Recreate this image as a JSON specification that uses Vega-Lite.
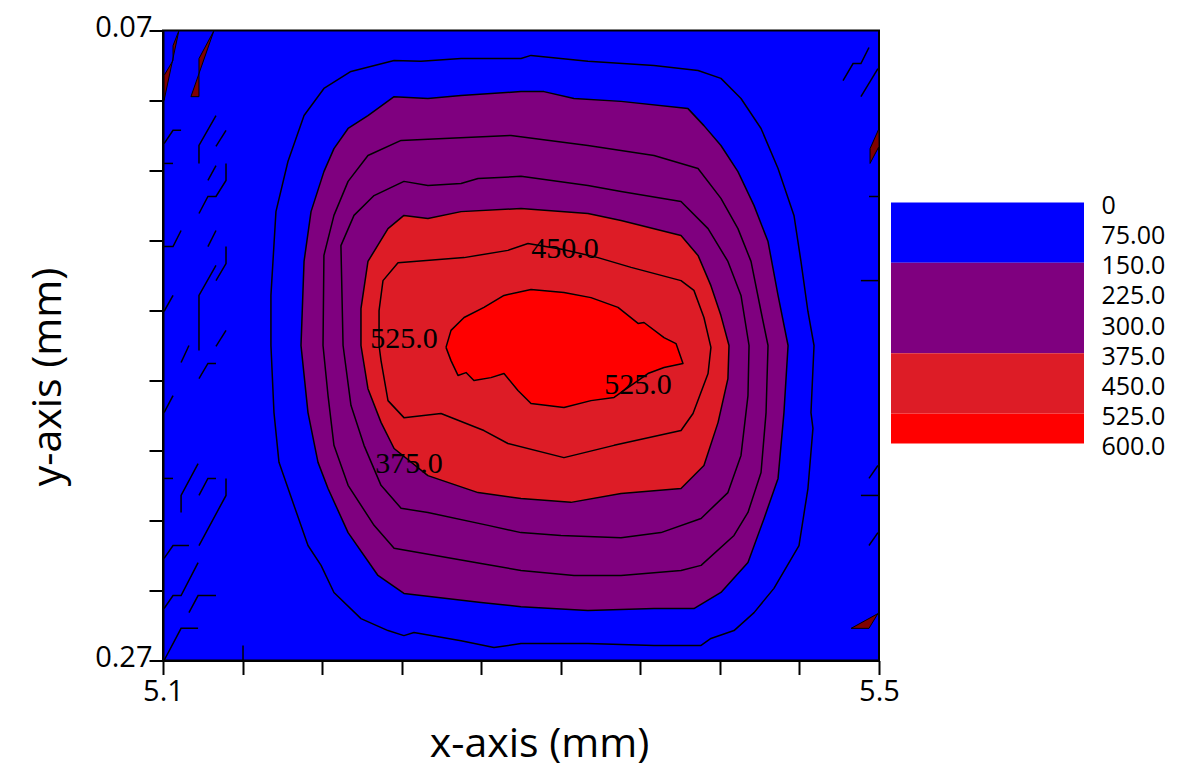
{
  "$schema": "https://vega.github.io/schema/vega-lite/v6.json",
  "background": "white",
  "padding": {"left": 26, "top": 12.5, "right": 5, "bottom": 6},
  "datasets": {
    "contours": [
      {"lvl":75,"i":0,"x":5.1603,"y":0.1700},{"lvl":75,"i":1,"x":5.1603,"y":0.1541},{"lvl":75,"i":2,"x":5.1631,"y":0.1275},{"lvl":75,"i":3,"x":5.1698,"y":0.1116},{"lvl":75,"i":4,"x":5.1788,"y":0.0970},{"lvl":75,"i":5,"x":5.1899,"y":0.0884},{"lvl":75,"i":6,"x":5.2050,"y":0.0830},{"lvl":75,"i":7,"x":5.2291,"y":0.0795},{"lvl":75,"i":8,"x":5.2441,"y":0.0798},{"lvl":75,"i":9,"x":5.2665,"y":0.0789},{"lvl":75,"i":10,"x":5.3000,"y":0.0789},{"lvl":75,"i":11,"x":5.3056,"y":0.0779},{"lvl":75,"i":12,"x":5.3374,"y":0.0798},{"lvl":75,"i":13,"x":5.3743,"y":0.0811},{"lvl":75,"i":14,"x":5.3989,"y":0.0827},{"lvl":75,"i":15,"x":5.4117,"y":0.0852},{"lvl":75,"i":16,"x":5.4229,"y":0.0916},{"lvl":75,"i":17,"x":5.4341,"y":0.1011},{"lvl":75,"i":18,"x":5.4436,"y":0.1138},{"lvl":75,"i":19,"x":5.4525,"y":0.1287},{"lvl":75,"i":20,"x":5.4564,"y":0.1433},{"lvl":75,"i":21,"x":5.4603,"y":0.1592},{"lvl":75,"i":22,"x":5.4637,"y":0.1700},{"lvl":75,"i":23,"x":5.4620,"y":0.1913},{"lvl":75,"i":24,"x":5.4631,"y":0.1963},{"lvl":75,"i":25,"x":5.4603,"y":0.2154},{"lvl":75,"i":26,"x":5.4553,"y":0.2335},{"lvl":75,"i":27,"x":5.4413,"y":0.2471},{"lvl":75,"i":28,"x":5.4302,"y":0.2548},{"lvl":75,"i":29,"x":5.4190,"y":0.2605},{"lvl":75,"i":30,"x":5.4061,"y":0.2630},{"lvl":75,"i":31,"x":5.4006,"y":0.2652},{"lvl":75,"i":32,"x":5.3743,"y":0.2652},{"lvl":75,"i":33,"x":5.3374,"y":0.2646},{"lvl":75,"i":34,"x":5.3000,"y":0.2646},{"lvl":75,"i":35,"x":5.2849,"y":0.2659},{"lvl":75,"i":36,"x":5.2665,"y":0.2637},{"lvl":75,"i":37,"x":5.2402,"y":0.2611},{"lvl":75,"i":38,"x":5.2346,"y":0.2621},{"lvl":75,"i":39,"x":5.2257,"y":0.2605},{"lvl":75,"i":40,"x":5.2106,"y":0.2567},{"lvl":75,"i":41,"x":5.1955,"y":0.2484},{"lvl":75,"i":42,"x":5.1883,"y":0.2398},{"lvl":75,"i":43,"x":5.1810,"y":0.2335},{"lvl":75,"i":44,"x":5.1732,"y":0.2208},{"lvl":75,"i":45,"x":5.1648,"y":0.2071},{"lvl":75,"i":46,"x":5.1620,"y":0.1913},{"lvl":75,"i":47,"x":5.1603,"y":0.1700},
      {"lvl":150,"i":0,"x":5.1771,"y":0.1700},{"lvl":150,"i":1,"x":5.1788,"y":0.1433},{"lvl":150,"i":2,"x":5.1827,"y":0.1275},{"lvl":150,"i":3,"x":5.1899,"y":0.1148},{"lvl":150,"i":4,"x":5.1955,"y":0.1075},{"lvl":150,"i":5,"x":5.2034,"y":0.1011},{"lvl":150,"i":6,"x":5.2145,"y":0.0970},{"lvl":150,"i":7,"x":5.2291,"y":0.0910},{"lvl":150,"i":8,"x":5.2480,"y":0.0916},{"lvl":150,"i":9,"x":5.2665,"y":0.0906},{"lvl":150,"i":10,"x":5.3000,"y":0.0894},{"lvl":150,"i":11,"x":5.3128,"y":0.0894},{"lvl":150,"i":12,"x":5.3296,"y":0.0916},{"lvl":150,"i":13,"x":5.3559,"y":0.0925},{"lvl":150,"i":14,"x":5.3933,"y":0.0948},{"lvl":150,"i":15,"x":5.4022,"y":0.1002},{"lvl":150,"i":16,"x":5.4117,"y":0.1065},{"lvl":150,"i":17,"x":5.4212,"y":0.1148},{"lvl":150,"i":18,"x":5.4302,"y":0.1256},{"lvl":150,"i":19,"x":5.4380,"y":0.1370},{"lvl":150,"i":20,"x":5.4436,"y":0.1541},{"lvl":150,"i":21,"x":5.4492,"y":0.1700},{"lvl":150,"i":22,"x":5.4469,"y":0.1913},{"lvl":150,"i":23,"x":5.4436,"y":0.2122},{"lvl":150,"i":24,"x":5.4358,"y":0.2249},{"lvl":150,"i":25,"x":5.4268,"y":0.2389},{"lvl":150,"i":26,"x":5.4117,"y":0.2484},{"lvl":150,"i":27,"x":5.3966,"y":0.2535},{"lvl":150,"i":28,"x":5.3743,"y":0.2535},{"lvl":150,"i":29,"x":5.3374,"y":0.2541},{"lvl":150,"i":30,"x":5.3000,"y":0.2529},{"lvl":150,"i":31,"x":5.2777,"y":0.2516},{"lvl":150,"i":32,"x":5.2346,"y":0.2487},{"lvl":150,"i":33,"x":5.2201,"y":0.2430},{"lvl":150,"i":34,"x":5.2034,"y":0.2294},{"lvl":150,"i":35,"x":5.1922,"y":0.2154},{"lvl":150,"i":36,"x":5.1866,"y":0.2071},{"lvl":150,"i":37,"x":5.1810,"y":0.1913},{"lvl":150,"i":38,"x":5.1771,"y":0.1700},
      {"lvl":225,"i":0,"x":5.1894,"y":0.1700},{"lvl":225,"i":1,"x":5.1899,"y":0.1414},{"lvl":225,"i":2,"x":5.1955,"y":0.1287},{"lvl":225,"i":3,"x":5.2034,"y":0.1179},{"lvl":225,"i":4,"x":5.2145,"y":0.1097},{"lvl":225,"i":5,"x":5.2330,"y":0.1049},{"lvl":225,"i":6,"x":5.2570,"y":0.1043},{"lvl":225,"i":7,"x":5.2944,"y":0.1033},{"lvl":225,"i":8,"x":5.3374,"y":0.1065},{"lvl":225,"i":9,"x":5.3743,"y":0.1097},{"lvl":225,"i":10,"x":5.3989,"y":0.1138},{"lvl":225,"i":11,"x":5.4117,"y":0.1233},{"lvl":225,"i":12,"x":5.4212,"y":0.1329},{"lvl":225,"i":13,"x":5.4285,"y":0.1433},{"lvl":225,"i":14,"x":5.4341,"y":0.1592},{"lvl":225,"i":15,"x":5.4380,"y":0.1700},{"lvl":225,"i":16,"x":5.4369,"y":0.1913},{"lvl":225,"i":17,"x":5.4341,"y":0.2103},{"lvl":225,"i":18,"x":5.4268,"y":0.2230},{"lvl":225,"i":19,"x":5.4190,"y":0.2303},{"lvl":225,"i":20,"x":5.4006,"y":0.2398},{"lvl":225,"i":21,"x":5.3894,"y":0.2414},{"lvl":225,"i":22,"x":5.3559,"y":0.2430},{"lvl":225,"i":23,"x":5.3296,"y":0.2430},{"lvl":225,"i":24,"x":5.3000,"y":0.2414},{"lvl":225,"i":25,"x":5.2777,"y":0.2392},{"lvl":225,"i":26,"x":5.2291,"y":0.2344},{"lvl":225,"i":27,"x":5.2179,"y":0.2271},{"lvl":225,"i":28,"x":5.2034,"y":0.2144},{"lvl":225,"i":29,"x":5.1955,"y":0.2017},{"lvl":225,"i":30,"x":5.1922,"y":0.1859},{"lvl":225,"i":31,"x":5.1894,"y":0.1700},
      {"lvl":300,"i":0,"x":5.2006,"y":0.1700},{"lvl":300,"i":1,"x":5.1994,"y":0.1383},{"lvl":300,"i":2,"x":5.2067,"y":0.1287},{"lvl":300,"i":3,"x":5.2179,"y":0.1224},{"lvl":300,"i":4,"x":5.2346,"y":0.1179},{"lvl":300,"i":5,"x":5.2480,"y":0.1192},{"lvl":300,"i":6,"x":5.2665,"y":0.1186},{"lvl":300,"i":7,"x":5.2760,"y":0.1170},{"lvl":300,"i":8,"x":5.3000,"y":0.1163},{"lvl":300,"i":9,"x":5.3374,"y":0.1192},{"lvl":300,"i":10,"x":5.3559,"y":0.1211},{"lvl":300,"i":11,"x":5.3894,"y":0.1243},{"lvl":300,"i":12,"x":5.4045,"y":0.1329},{"lvl":300,"i":13,"x":5.4156,"y":0.1433},{"lvl":300,"i":14,"x":5.4229,"y":0.1541},{"lvl":300,"i":15,"x":5.4274,"y":0.1700},{"lvl":300,"i":16,"x":5.4268,"y":0.1859},{"lvl":300,"i":17,"x":5.4229,"y":0.2049},{"lvl":300,"i":18,"x":5.4156,"y":0.2167},{"lvl":300,"i":19,"x":5.4006,"y":0.2249},{"lvl":300,"i":20,"x":5.3782,"y":0.2294},{"lvl":300,"i":21,"x":5.3559,"y":0.2310},{"lvl":300,"i":22,"x":5.3223,"y":0.2303},{"lvl":300,"i":23,"x":5.3000,"y":0.2294},{"lvl":300,"i":24,"x":5.2816,"y":0.2271},{"lvl":300,"i":25,"x":5.2480,"y":0.2230},{"lvl":300,"i":26,"x":5.2330,"y":0.2217},{"lvl":300,"i":27,"x":5.2218,"y":0.2144},{"lvl":300,"i":28,"x":5.2123,"y":0.2017},{"lvl":300,"i":29,"x":5.2050,"y":0.1890},{"lvl":300,"i":30,"x":5.2006,"y":0.1700},
      {"lvl":375,"i":0,"x":5.2106,"y":0.1700},{"lvl":375,"i":1,"x":5.2106,"y":0.1583},{"lvl":375,"i":2,"x":5.2145,"y":0.1433},{"lvl":375,"i":3,"x":5.2257,"y":0.1329},{"lvl":375,"i":4,"x":5.2346,"y":0.1287},{"lvl":375,"i":5,"x":5.2480,"y":0.1297},{"lvl":375,"i":6,"x":5.2665,"y":0.1275},{"lvl":375,"i":7,"x":5.3000,"y":0.1265},{"lvl":375,"i":8,"x":5.3374,"y":0.1281},{"lvl":375,"i":9,"x":5.3559,"y":0.1303},{"lvl":375,"i":10,"x":5.3894,"y":0.1351},{"lvl":375,"i":11,"x":5.3989,"y":0.1414},{"lvl":375,"i":12,"x":5.4061,"y":0.1510},{"lvl":375,"i":13,"x":5.4117,"y":0.1605},{"lvl":375,"i":14,"x":5.4162,"y":0.1700},{"lvl":375,"i":15,"x":5.4156,"y":0.1805},{"lvl":375,"i":16,"x":5.4101,"y":0.1944},{"lvl":375,"i":17,"x":5.4022,"y":0.2081},{"lvl":375,"i":18,"x":5.3894,"y":0.2154},{"lvl":375,"i":19,"x":5.3559,"y":0.2170},{"lvl":375,"i":20,"x":5.3279,"y":0.2198},{"lvl":375,"i":21,"x":5.3000,"y":0.2186},{"lvl":375,"i":22,"x":5.2760,"y":0.2167},{"lvl":375,"i":23,"x":5.2480,"y":0.2113},{"lvl":375,"i":24,"x":5.2291,"y":0.2027},{"lvl":375,"i":25,"x":5.2218,"y":0.1944},{"lvl":375,"i":26,"x":5.2145,"y":0.1837},{"lvl":375,"i":27,"x":5.2106,"y":0.1700},
      {"lvl":450,"i":0,"x":5.2207,"y":0.1700},{"lvl":450,"i":1,"x":5.2207,"y":0.1589},{"lvl":450,"i":2,"x":5.2229,"y":0.1494},{"lvl":450,"i":3,"x":5.2313,"y":0.1437},{"lvl":450,"i":4,"x":5.2682,"y":0.1421},{"lvl":450,"i":5,"x":5.2927,"y":0.1398},{"lvl":450,"i":6,"x":5.3039,"y":0.1376},{"lvl":450,"i":7,"x":5.3235,"y":0.1395},{"lvl":450,"i":8,"x":5.3430,"y":0.1421},{"lvl":450,"i":9,"x":5.3615,"y":0.1452},{"lvl":450,"i":10,"x":5.3894,"y":0.1494},{"lvl":450,"i":11,"x":5.3966,"y":0.1525},{"lvl":450,"i":12,"x":5.4022,"y":0.1611},{"lvl":450,"i":13,"x":5.4061,"y":0.1706},{"lvl":450,"i":14,"x":5.4045,"y":0.1789},{"lvl":450,"i":15,"x":5.3961,"y":0.1916},{"lvl":450,"i":16,"x":5.3894,"y":0.1970},{"lvl":450,"i":17,"x":5.3520,"y":0.2017},{"lvl":450,"i":18,"x":5.3240,"y":0.2056},{"lvl":450,"i":19,"x":5.2927,"y":0.2011},{"lvl":450,"i":20,"x":5.2793,"y":0.1970},{"lvl":450,"i":21,"x":5.2553,"y":0.1916},{"lvl":450,"i":22,"x":5.2346,"y":0.1929},{"lvl":450,"i":23,"x":5.2257,"y":0.1875},{"lvl":450,"i":24,"x":5.2218,"y":0.1748},{"lvl":450,"i":25,"x":5.2207,"y":0.1700},
      {"lvl":525,"i":0,"x":5.2581,"y":0.1706},{"lvl":525,"i":1,"x":5.2609,"y":0.1652},{"lvl":525,"i":2,"x":5.2682,"y":0.1611},{"lvl":525,"i":3,"x":5.2793,"y":0.1579},{"lvl":525,"i":4,"x":5.2905,"y":0.1541},{"lvl":525,"i":5,"x":5.3056,"y":0.1522},{"lvl":525,"i":6,"x":5.3240,"y":0.1532},{"lvl":525,"i":7,"x":5.3391,"y":0.1548},{"lvl":525,"i":8,"x":5.3542,"y":0.1579},{"lvl":525,"i":9,"x":5.3654,"y":0.1630},{"lvl":525,"i":10,"x":5.3687,"y":0.1627},{"lvl":525,"i":11,"x":5.3799,"y":0.1675},{"lvl":525,"i":12,"x":5.3866,"y":0.1694},{"lvl":525,"i":13,"x":5.3905,"y":0.1757},{"lvl":525,"i":14,"x":5.3799,"y":0.1770},{"lvl":525,"i":15,"x":5.3709,"y":0.1789},{"lvl":525,"i":16,"x":5.3520,"y":0.1865},{"lvl":525,"i":17,"x":5.3391,"y":0.1875},{"lvl":525,"i":18,"x":5.3240,"y":0.1897},{"lvl":525,"i":19,"x":5.3056,"y":0.1884},{"lvl":525,"i":20,"x":5.2983,"y":0.1843},{"lvl":525,"i":21,"x":5.2905,"y":0.1789},{"lvl":525,"i":22,"x":5.2832,"y":0.1802},{"lvl":525,"i":23,"x":5.2737,"y":0.1811},{"lvl":525,"i":24,"x":5.2693,"y":0.1786},{"lvl":525,"i":25,"x":5.2648,"y":0.1795},{"lvl":525,"i":26,"x":5.2609,"y":0.1748},{"lvl":525,"i":27,"x":5.2581,"y":0.1706}
    ],
    "patches": [
      {"id":1,"i":0,"x":5.1089,"y":0.0700},{"id":1,"i":1,"x":5.1056,"y":0.0748},{"id":1,"i":2,"x":5.1056,"y":0.0795},{"id":1,"i":3,"x":5.1006,"y":0.0843},{"id":1,"i":4,"x":5.1006,"y":0.0922},{"id":1,"i":5,"x":5.1089,"y":0.0700},
      {"id":2,"i":0,"x":5.1285,"y":0.0700},{"id":2,"i":1,"x":5.1201,"y":0.0789},{"id":2,"i":2,"x":5.1201,"y":0.0910},{"id":2,"i":3,"x":5.1156,"y":0.0910},{"id":2,"i":4,"x":5.1285,"y":0.0700},
      {"id":3,"i":0,"x":5.5000,"y":0.1011},{"id":3,"i":1,"x":5.4950,"y":0.1075},{"id":3,"i":2,"x":5.4950,"y":0.1122},{"id":3,"i":3,"x":5.5000,"y":0.1068},{"id":3,"i":4,"x":5.5000,"y":0.1011},
      {"id":4,"i":0,"x":5.4844,"y":0.2598},{"id":4,"i":1,"x":5.4994,"y":0.2551},{"id":4,"i":2,"x":5.4944,"y":0.2598},{"id":4,"i":3,"x":5.4844,"y":0.2598}
    ],
    "frags": [
      {"seg":1,"i":0,"x":5.1006,"y":0.1059},{"seg":1,"i":1,"x":5.1056,"y":0.1017},{"seg":1,"i":2,"x":5.1101,"y":0.1017},
      {"seg":2,"i":0,"x":5.1006,"y":0.1122},{"seg":2,"i":1,"x":5.1056,"y":0.1122},
      {"seg":3,"i":0,"x":5.1201,"y":0.1122},{"seg":3,"i":1,"x":5.1201,"y":0.1065},{"seg":3,"i":2,"x":5.1296,"y":0.0970},
      {"seg":4,"i":0,"x":5.1296,"y":0.1068},{"seg":4,"i":1,"x":5.1352,"y":0.1017},
      {"seg":5,"i":0,"x":5.1251,"y":0.1176},{"seg":5,"i":1,"x":5.1296,"y":0.1129},
      {"seg":6,"i":0,"x":5.1352,"y":0.1122},{"seg":6,"i":1,"x":5.1352,"y":0.1176},{"seg":6,"i":2,"x":5.1296,"y":0.1227},{"seg":6,"i":3,"x":5.1251,"y":0.1227},{"seg":6,"i":4,"x":5.1201,"y":0.1281},
      {"seg":7,"i":0,"x":5.1006,"y":0.1386},{"seg":7,"i":1,"x":5.1056,"y":0.1386},{"seg":7,"i":2,"x":5.1101,"y":0.1335},
      {"seg":8,"i":0,"x":5.1251,"y":0.1386},{"seg":8,"i":1,"x":5.1296,"y":0.1335},
      {"seg":9,"i":0,"x":5.1352,"y":0.1386},{"seg":9,"i":1,"x":5.1352,"y":0.1440},{"seg":9,"i":2,"x":5.1296,"y":0.1494},
      {"seg":10,"i":0,"x":5.1296,"y":0.1446},{"seg":10,"i":1,"x":5.1201,"y":0.1541},{"seg":10,"i":2,"x":5.1201,"y":0.1716},
      {"seg":11,"i":0,"x":5.1006,"y":0.1592},{"seg":11,"i":1,"x":5.1056,"y":0.1541},
      {"seg":12,"i":0,"x":5.1296,"y":0.1703},{"seg":12,"i":1,"x":5.1352,"y":0.1652},
      {"seg":13,"i":0,"x":5.1101,"y":0.1754},{"seg":13,"i":1,"x":5.1145,"y":0.1700},
      {"seg":14,"i":0,"x":5.1201,"y":0.1805},{"seg":14,"i":1,"x":5.1251,"y":0.1757},{"seg":14,"i":2,"x":5.1296,"y":0.1757},
      {"seg":15,"i":0,"x":5.1006,"y":0.1913},{"seg":15,"i":1,"x":5.1056,"y":0.1859},
      {"seg":16,"i":0,"x":5.1101,"y":0.2230},{"seg":16,"i":1,"x":5.1101,"y":0.2176},{"seg":16,"i":2,"x":5.1196,"y":0.2075},
      {"seg":17,"i":0,"x":5.1006,"y":0.2122},{"seg":17,"i":1,"x":5.1056,"y":0.2122},
      {"seg":18,"i":0,"x":5.1201,"y":0.2176},{"seg":18,"i":1,"x":5.1251,"y":0.2122},{"seg":18,"i":2,"x":5.1296,"y":0.2122},
      {"seg":19,"i":0,"x":5.1352,"y":0.2122},{"seg":19,"i":1,"x":5.1352,"y":0.2176},{"seg":19,"i":2,"x":5.1201,"y":0.2335},
      {"seg":20,"i":0,"x":5.1006,"y":0.2376},{"seg":20,"i":1,"x":5.1056,"y":0.2335},{"seg":20,"i":2,"x":5.1145,"y":0.2335},
      {"seg":21,"i":0,"x":5.1006,"y":0.2535},{"seg":21,"i":1,"x":5.1056,"y":0.2494},{"seg":21,"i":2,"x":5.1101,"y":0.2494},{"seg":21,"i":3,"x":5.1196,"y":0.2389},
      {"seg":22,"i":0,"x":5.1145,"y":0.2548},{"seg":22,"i":1,"x":5.1196,"y":0.2494},{"seg":22,"i":2,"x":5.1296,"y":0.2494},
      {"seg":23,"i":0,"x":5.1006,"y":0.2700},{"seg":23,"i":1,"x":5.1101,"y":0.2598},{"seg":23,"i":2,"x":5.1196,"y":0.2598},
      {"seg":24,"i":0,"x":5.1447,"y":0.2652},{"seg":24,"i":1,"x":5.1447,"y":0.2700},
      {"seg":25,"i":0,"x":5.4799,"y":0.0859},{"seg":25,"i":1,"x":5.4855,"y":0.0805},{"seg":25,"i":2,"x":5.4899,"y":0.0805},{"seg":25,"i":3,"x":5.4944,"y":0.0754},
      {"seg":26,"i":0,"x":5.4899,"y":0.0910},{"seg":26,"i":1,"x":5.4994,"y":0.0821},
      {"seg":27,"i":0,"x":5.4944,"y":0.1227},{"seg":27,"i":1,"x":5.5000,"y":0.1227},
      {"seg":28,"i":0,"x":5.4899,"y":0.1494},{"seg":28,"i":1,"x":5.5000,"y":0.1494},
      {"seg":29,"i":0,"x":5.4944,"y":0.2122},{"seg":29,"i":1,"x":5.4994,"y":0.2081},
      {"seg":30,"i":0,"x":5.4899,"y":0.2176},{"seg":30,"i":1,"x":5.5000,"y":0.2176},
      {"seg":31,"i":0,"x":5.4944,"y":0.2335},{"seg":31,"i":1,"x":5.4994,"y":0.2294}
    ],
    "labels": [
      {"label":"450.0","x":5.3246,"y":0.1395},
      {"label":"525.0","x":5.2346,"y":0.1678},
      {"label":"525.0","x":5.3654,"y":0.1824},
      {"label":"375.0","x":5.2374,"y":0.2075}
    ],
    "legend": [
      {"lo":0,"hi":150},
      {"lo":150,"hi":375},
      {"lo":375,"hi":525},
      {"lo":525,"hi":600}
    ]
  },
  "hconcat": [
    {
      "width": 716,
      "height": 630,
      "view": {"fill": "#0000FF", "stroke": "black", "strokeWidth": 2},
      "layer": [
        {
          "data": {"name": "contours"},
          "mark": {"type": "line", "stroke": "black", "strokeWidth": 1.5, "strokeJoin": "round"},
          "encoding": {
            "x": {
              "field": "x", "type": "quantitative",
              "scale": {"domain": [5.1, 5.5], "nice": false, "zero": false},
              "axis": {
                "values": [5.1, 5.144444, 5.188889, 5.233333, 5.277778, 5.322222, 5.366667, 5.411111, 5.455556, 5.5],
                "labelExpr": "datum.value < 5.11 ? '5.1' : (datum.value > 5.49 ? '5.5' : '')",
                "labelFontSize": 29, "labelPadding": 3, "labelFlush": false, "labelOverlap": false,
                "tickSize": 14, "tickWidth": 2, "domainWidth": 2,
                "title": "x-axis (mm)", "titleFontSize": 41, "titleX": 376, "titleY": 84,
                "titleBaseline": "middle", "titleAlign": "center",
                "encode": {"ticks": {"update": {"y2": {"signal": "round((datum.value - 5.1) / 0.0444444) % 2 == 1 ? 14 : (datum.value < 5.11 ? 0 : 7)"}}}}
              }
            },
            "y": {
              "field": "y", "type": "quantitative",
              "scale": {"domain": [0.07, 0.27], "nice": false, "zero": false, "reverse": true},
              "axis": {
                "values": [0.07, 0.081111, 0.092222, 0.103333, 0.114444, 0.125556, 0.136667, 0.147778, 0.158889, 0.17, 0.181111, 0.192222, 0.203333, 0.214444, 0.225556, 0.236667, 0.247778, 0.258889, 0.27],
                "labelExpr": "datum.value < 0.0705 ? '0.07' : (datum.value > 0.2695 ? '0.27' : '')",
                "labelFontSize": 29, "labelPadding": -3, "labelOffset": -3, "labelFlush": false, "labelOverlap": false, "labelBaseline": "middle",
                "tickSize": 14, "tickWidth": 2, "domainWidth": 2,
                "title": "y-axis (mm)", "titleFontSize": 41, "titleX": -115, "titleY": 346,
                "titleBaseline": "middle", "titleAlign": "center", "titleAngle": -90,
                "encode": {"ticks": {"update": {"x2": {"signal": "round((datum.value - 0.07) / 0.0111111) % 2 == 0 ? -14 : -8"}}}}
              }
            },
            "order": {"field": "i", "type": "quantitative"},
            "detail": {"field": "lvl", "type": "nominal"},
            "fill": {
              "field": "lvl", "type": "quantitative",
              "scale": {"type": "threshold", "domain": [150, 375, 525], "range": ["#0000FF", "#7F007F", "#DD1C26", "#FF0000"]},
              "legend": null
            }
          }
        },
        {
          "data": {"name": "patches"},
          "mark": {"type": "line", "fill": "#800000", "stroke": "black", "strokeWidth": 1},
          "encoding": {
            "x": {"field": "x", "type": "quantitative"},
            "y": {"field": "y", "type": "quantitative"},
            "order": {"field": "i", "type": "quantitative"},
            "detail": {"field": "id", "type": "nominal"}
          }
        },
        {
          "data": {"name": "frags"},
          "mark": {"type": "line", "stroke": "black", "strokeWidth": 1.5},
          "encoding": {
            "x": {"field": "x", "type": "quantitative"},
            "y": {"field": "y", "type": "quantitative"},
            "order": {"field": "i", "type": "quantitative"},
            "detail": {"field": "seg", "type": "nominal"}
          }
        },
        {
          "data": {"name": "labels"},
          "mark": {"type": "text", "font": "Liberation Serif", "fontSize": 30, "color": "black", "align": "center", "baseline": "middle"},
          "encoding": {
            "x": {"field": "x", "type": "quantitative"},
            "y": {"field": "y", "type": "quantitative"},
            "text": {"field": "label"}
          }
        }
      ]
    },
    {
      "width": 193,
      "height": 630,
      "view": {"stroke": null},
      "data": {"name": "legend"},
      "mark": {"type": "rect"},
      "encoding": {
        "x": {"datum": 0, "type": "quantitative", "scale": {"domain": [0, 1]}, "axis": null},
        "x2": {"datum": 1},
        "y": {
          "field": "lo", "type": "quantitative",
          "scale": {"domain": [-428.2, 1140.2], "nice": false, "zero": false, "reverse": true},
          "axis": {
            "orient": "right",
            "values": [0, 75, 150, 225, 300, 375, 450, 525, 600],
            "labelExpr": "datum.value == 0 ? '0' : (datum.value < 100 ? format(datum.value, '.2f') : format(datum.value, '.1f'))",
            "labelFontSize": 25, "labelPadding": 17, "labelOffset": 3, "labelOverlap": false, "labelFlush": false,
            "ticks": false, "domain": false, "title": null
          }
        },
        "y2": {"field": "hi"},
        "fill": {
          "field": "lo", "type": "quantitative",
          "scale": {"type": "threshold", "domain": [150, 375, 525], "range": ["#0000FF", "#7F007F", "#DD1C26", "#FF0000"]},
          "legend": null
        }
      }
    }
  ],
  "spacing": 12,
  "bounds": "flush",
  "resolve": {"scale": {"fill": "independent"}},
  "config": {
    "font": "Open Sans",
    "axis": {
      "labelFont": "Open Sans", "titleFont": "Open Sans", "labelColor": "black", "titleColor": "black",
      "titleFontWeight": "normal", "domainColor": "black", "tickColor": "black", "grid": false
    }
  }
}
